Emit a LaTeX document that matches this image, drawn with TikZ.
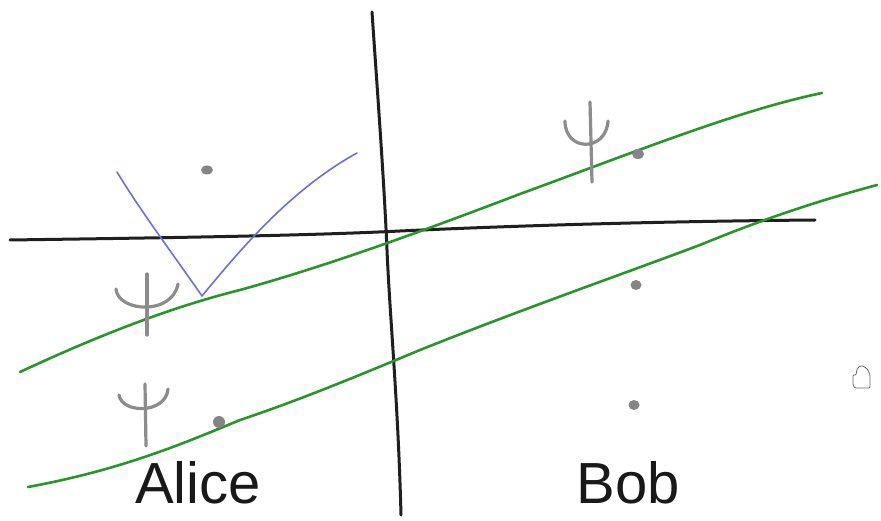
\documentclass[tikz,border=0pt]{standalone}
\usepackage{fontspec}
\setmainfont{Liberation Sans}
\begin{document}
\begin{tikzpicture}[x=1pt,y=-1pt,
  ink/.style={line width=3pt,line cap=round,line join=round,color=black!88},
  grn/.style={line width=2.6pt,line cap=round,color={rgb,255:red,40;green,150;blue,40}},
  blu/.style={line width=1.6pt,line cap=round,line join=round,color={rgb,255:red,110;green,110;blue,220}},
  psi/.style={line width=3.2pt,line cap=round,color=black!45},
  dot/.style={fill=black!48,draw=none},
  lbl/.style={font=\fontsize{58}{58}\selectfont,text=black!90,inner sep=0pt}]
\fill[white!97!green!10] (0,0) rectangle (881,521);
\useasboundingbox (0,0) rectangle (881,521);
% black axes
\draw[ink] (372,12) .. controls (378,100) and (384,180) .. (387,250)
  .. controls (390,320) and (398,400) .. (401,515);
\draw[ink] (10,240) .. controls (150,238) and (300,236) .. (400,231)
  .. controls (550,224) and (700,221) .. (815,220);
% green lines
\draw[grn] (20,372) .. controls (110,330) and (180,305) .. (240,290)
  .. controls (330,265) and (420,232) .. (520,194)
  .. controls (640,150) and (740,110) .. (822,93);
\draw[grn] (28,487) .. controls (120,470) and (180,445) .. (240,420)
  .. controls (300,400) and (360,375) .. (420,350)
  .. controls (520,310) and (620,275) .. (700,245)
  .. controls (780,212) and (840,195) .. (877,185);
% blue V
\draw[blu] (117,172) .. controls (140,210) and (170,250) .. (202,296)
  .. controls (240,250) and (290,190) .. (357,153);
% dots
\fill[dot] (207,170) ellipse (6 and 4.5);
\fill[dot] (638,154) ellipse (6 and 5);
\fill[dot] (636,285) ellipse (5.5 and 5);
\fill[dot] (634,405) ellipse (5.5 and 5);
\fill[dot] (219,422) ellipse (6 and 6);
% psi symbols
\draw[psi] (147,274) -- (147,335);
\draw[psi] (116,289) .. controls (118,312) and (172,316) .. (178,284);
\draw[psi] (145,384) -- (146,446);
\draw[psi] (119,395) .. controls (122,414) and (166,414) .. (168,389);
\draw[psi] (590,102) -- (592,182);
\draw[psi] (565,121) .. controls (565,152) and (606,152) .. (608,121);
% hand cursor
\draw[black!60,line width=0.8pt,fill=white,rounded corners=1pt]
  (853,385) -- (853,375) -- (856,375) -- (857,369) -- (860,366) -- (863,366) -- (866,368) -- (868,370) -- (870,375) -- (870,388) -- (855,388) -- cycle;
% labels
\node[lbl,anchor=base] (alice) at (198,503) {Alice};
\node[lbl,anchor=base] (bob) at (628,503) {Bob};
\end{tikzpicture}
\end{document}
